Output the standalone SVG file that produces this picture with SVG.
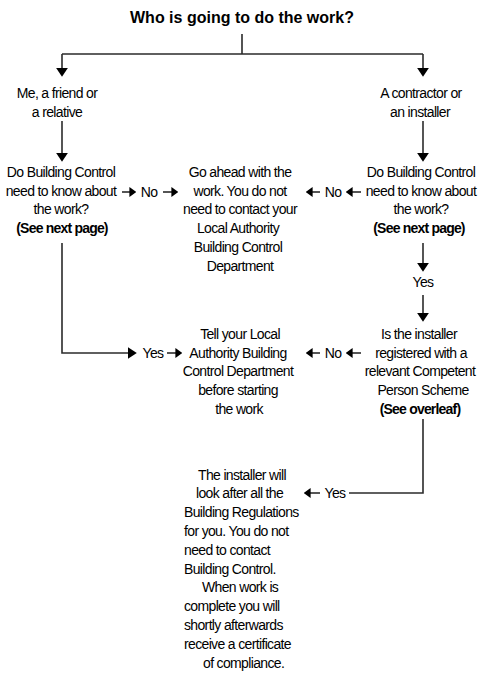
<svg xmlns="http://www.w3.org/2000/svg" width="486" height="677" viewBox="0 0 486 677">
<style>
text{font-family:"Liberation Sans",Arial,sans-serif;font-size:14px;letter-spacing:-0.65px;fill:#000}
.c{text-anchor:middle}
.b{font-weight:bold;letter-spacing:-0.8px}
.t{font-size:16px;font-weight:bold;letter-spacing:0}
.ln{fill:none;stroke:#2b2b2b;stroke-width:1.6}
</style>
<defs>
<marker id="ah" viewBox="0 0 10 10" refX="8" refY="5" markerWidth="9" markerHeight="12" markerUnits="userSpaceOnUse" orient="auto" preserveAspectRatio="none"><path d="M0,0 L10,5 L0,10 z" fill="#000"/></marker>
<marker id="ahs" viewBox="0 0 10 10" refX="8" refY="5" markerWidth="7" markerHeight="10" markerUnits="userSpaceOnUse" orient="auto" preserveAspectRatio="none"><path d="M0,0 L10,5 L0,10 z" fill="#000"/></marker>
</defs>

<g id="title"><text class="t c" x="242" y="23">Who is going to do the work?</text></g>

<g id="n-diy"><text class="c" x="57" y="98">Me, a friend or<tspan x="57" dy="18.7">a relative</tspan></text></g>
<g id="n-contractor"><text class="c" x="421" y="98">A contractor or<tspan x="420" dy="18.7">an installer</tspan></text></g>

<g id="q-left"><text class="c" x="61" y="177">Do Building Control<tspan x="61" dy="18.7">need to know about</tspan><tspan x="61" dy="18.7">the work?</tspan><tspan x="62" dy="18.7" class="b">(See next page)</tspan></text></g>

<g id="go-ahead"><text class="c" x="240" y="177">Go ahead with the<tspan x="240" dy="18.7">work. You do not</tspan><tspan x="240" dy="18.7">need to contact your</tspan><tspan x="238" dy="18.7">Local Authority</tspan><tspan x="238" dy="18.7">Building Control</tspan><tspan x="240" dy="18.7">Department</tspan></text></g>

<g id="q-right"><text class="c" x="421" y="177">Do Building Control<tspan x="421" dy="18.7">need to know about</tspan><tspan x="421" dy="18.7">the work?</tspan><tspan x="419" dy="18.7" class="b">(See next page)</tspan></text></g>

<g id="tell-la"><text class="c" x="240" y="339">Tell your Local<tspan x="238" dy="18.7">Authority Building</tspan><tspan x="238" dy="18.7">Control Department</tspan><tspan x="238" dy="18.7">before starting</tspan><tspan x="239" dy="18.7">the work</tspan></text></g>

<g id="q-cps"><text class="c" x="419" y="339">Is the installer<tspan x="421" dy="18.7">registered with a</tspan><tspan x="420" dy="18.7">relevant Competent</tspan><tspan x="423" dy="18.7">Person Scheme</tspan><tspan x="420" dy="18.7" class="b">(See overleaf)</tspan></text></g>

<g id="installer-cert"><text x="198" y="479.5">The installer will<tspan x="196" dy="18.8">look after all the</tspan><tspan x="184" dy="18.8">Building Regulations</tspan><tspan x="184" dy="18.8">for you. You do not</tspan><tspan x="184" dy="18.8">need to contact</tspan><tspan x="184" dy="18.8">Building Control.</tspan><tspan x="202" dy="18.8">When work is</tspan><tspan x="184" dy="18.8">complete you will</tspan><tspan x="184" dy="18.8">shortly afterwards</tspan><tspan x="184" dy="18.8">receive a certificate</tspan><tspan x="203" dy="18.8">of compliance.</tspan></text></g>

<g id="connectors">
<path class="ln" d="M242,34 V54 M62,54 H423"/>
<path class="ln" d="M62,54 V75" marker-end="url(#ah)"/>
<path class="ln" d="M423,54 V75" marker-end="url(#ah)"/>
<path class="ln" d="M62,121 V160" marker-end="url(#ah)"/>
<path class="ln" d="M423,121 V160" marker-end="url(#ah)"/>
<path class="ln" d="M423,243 V270" marker-end="url(#ah)"/>
<path class="ln" d="M423,295 V320" marker-end="url(#ah)"/>
<path class="ln" d="M62,243 V353 H135" marker-end="url(#ah)"/>
<path class="ln" d="M167,353 H181" marker-end="url(#ahs)"/>
<text class="c" x="153" y="358">Yes</text>
<path class="ln" d="M122,192 H135" marker-end="url(#ahs)"/>
<text class="c" x="149" y="197">No</text>
<path class="ln" d="M163,192 H177" marker-end="url(#ahs)"/>
<path class="ln" d="M320,192 H307" marker-end="url(#ahs)"/>
<text class="c" x="333" y="197">No</text>
<path class="ln" d="M361,192 H347" marker-end="url(#ahs)"/>
<text class="c" x="423" y="287">Yes</text>
<path class="ln" d="M320,353 H307" marker-end="url(#ahs)"/>
<text class="c" x="333" y="358">No</text>
<path class="ln" d="M361,353 H347" marker-end="url(#ahs)"/>
<path class="ln" d="M423,419 V493 H349"/>
<text class="c" x="335" y="498">Yes</text>
<path class="ln" d="M320,493 H305" marker-end="url(#ahs)"/>
</g>
</svg>
